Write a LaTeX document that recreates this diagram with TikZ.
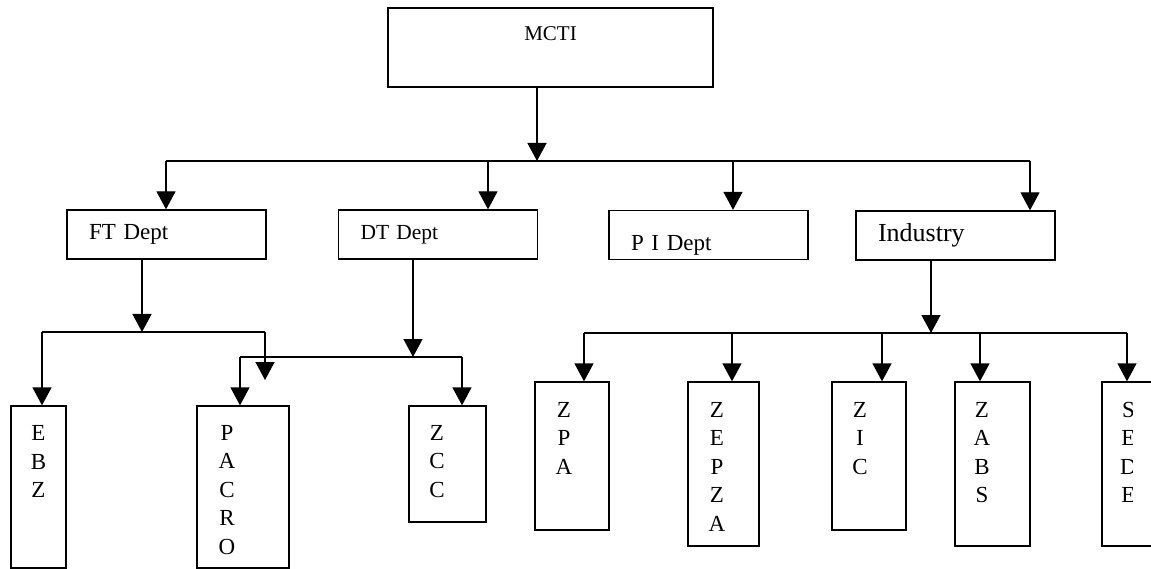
\documentclass[tikz,border=0pt]{standalone}
\usepackage{fontspec}
\setmainfont{Liberation Serif}
\usetikzlibrary{positioning,arrows.meta}

\begin{document}
\begin{tikzpicture}[
  x=1pt, y=-1pt,
  line width=1.3pt,
  box/.style={draw, rectangle, inner sep=0pt},
  dept/.style={box, minimum height=49pt, text width=155pt, inner xsep=22pt, align=left, font=\fontsize{23}{27}\selectfont},
  unit/.style={box},
  letters/.style={align=center, inner sep=0pt, font=\fontsize{23}{28.5}\selectfont},
  arr/.style={-{Triangle[length=18pt, width=19pt]}}
]
\useasboundingbox (0,0) rectangle (1151,569);

% top level
\node[box, minimum width=325pt, minimum height=79pt, text height=14pt, text depth=28pt, font=\fontsize{21}{25}\selectfont] (mcti) at (550.5,47.5) {MCTI};

% departments
\node[dept] (ft) at (166.5,234.5) {FT Dept};
\node[dept, font=\fontsize{21.5}{26}\selectfont] (dt) at (438,234.5) {DT Dept};
\node[dept, text height=36pt] (pi) at (708.5,235) {P I Dept};
\node[dept, font=\fontsize{26}{30}\selectfont] (ind) at (955.5,235.5) {Industry};

% units
\node[unit, minimum width=55pt, minimum height=162pt] (ebz) at (38.5,487) {};
\node[unit, minimum width=92pt, minimum height=162pt] (pacro) at (243,487) {};
\node[unit, minimum width=77pt, minimum height=116pt] (zcc) at (447.5,464) {};
\node[unit, minimum width=74pt, minimum height=148pt] (zpa) at (572,456) {};
\node[unit, minimum width=71pt, minimum height=164pt] (zepza) at (723.5,464) {};
\node[unit, minimum width=74pt, minimum height=148pt] (zic) at (869,456) {};
\node[unit, minimum width=75pt, minimum height=164pt] (zabs) at (992.5,464) {};
\node[unit, minimum width=75pt, minimum height=164pt] (sede) at (1139.5,464) {};

\node[letters, below=19.5pt of ebz.north] (ebzt) {E\\B\\Z};
\node[letters, below=19pt of pacro.north, xshift=-16pt] (pacrot) {P\\A\\C\\R\\O};
\node[letters, below=19pt of zcc.north, xshift=-10.5pt] (zcct) {Z\\C\\C};
\node[letters, below=20pt of zpa.north, xshift=-8pt] (zpat) {Z\\P\\A};
\node[letters, below=20pt of zepza.north, xshift=-6.5pt] (zepzat) {Z\\E\\P\\Z\\A};
\node[letters, below=20pt of zic.north, xshift=-9pt] (zict) {Z\\I\\C};
\node[letters, below=20pt of zabs.north, xshift=-10.5pt] (zabst) {Z\\A\\B\\S};
\begin{scope}
  \clip (1100,390) rectangle (1132,560);
  \node[letters, below=20pt of sede.north, xshift=-11pt] (sedet) {S\\E\\D\\E};
\end{scope}

% MCTI to departments
\coordinate (hub) at (537,161);
\coordinate (bft) at (166,161);
\coordinate (bdt) at (488,161);
\coordinate (bpi) at (733,161);
\coordinate (bind) at (1030,161);
\draw[arr] (mcti.south -| hub) -- (hub);
\draw (bft) -- (bind);
\foreach \c/\n in {bft/ft, bdt/dt, bpi/pi, bind/ind}
  \draw[arr] (\c) -- (\c |- \n.north);

% FT Dept branch
\coordinate (fthub) at (142,332);
\coordinate (ftl) at (42,332);
\coordinate (ftr) at (265,332);
\coordinate (ftend) at (265,380);
\draw[arr] (ft.south -| fthub) -- (fthub);
\draw (ftl) -- (ftr);
\draw[arr] (ftl) -- (ftl |- ebz.north);
\draw[arr] (ftr) -- (ftend);

% DT Dept branch
\coordinate (dthub) at (413,357);
\coordinate (dtl) at (240,357);
\coordinate (dtr) at (462,357);
\draw[arr] (dt.south -| dthub) -- (dthub);
\draw (dtl) -- (dtr);
\draw[arr] (dtl) -- (dtl |- pacro.north);
\draw[arr] (dtr) -- (dtr |- zcc.north);

% Industry branch
\coordinate (indhub) at (931,333);
\coordinate (indl) at (584,333);
\coordinate (indr) at (1127,333);
\draw[arr] (ind.south -| indhub) -- (indhub);
\draw (indl) -- (indr);
\foreach \x/\n in {584/zpa, 732/zepza, 882/zic, 980/zabs, 1127/sede}
  \draw[arr] (\x,333) -- (\x,333 |- \n.north);
\end{tikzpicture}
\end{document}
